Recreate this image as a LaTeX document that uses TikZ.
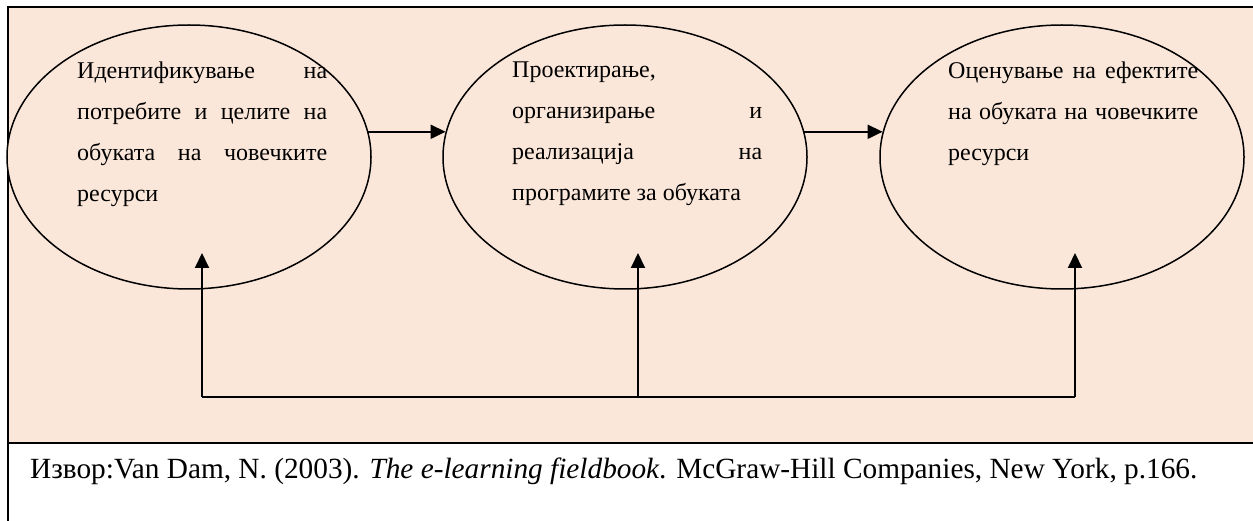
\documentclass[tikz,border=0pt]{standalone}
\usepackage{fontspec}
\setmainfont{Liberation Serif}
\usetikzlibrary{shapes.geometric,arrows.meta}
\definecolor{peach}{HTML}{FBE7DA}
\tikzset{
  frame/.style={line width=2pt,black},
  stage/.style={ellipse,draw,line width=1.5pt,fill=peach,minimum width=364pt,minimum height=264pt,inner sep=0pt},
  stagetext/.style={anchor=north west,inner sep=0pt,text width=250pt,align=justify,
    font=\fontsize{24}{41}\selectfont},
  flow/.style={line width=2pt,-{Triangle[length=15pt,width=14pt]}},
  link/.style={line width=2pt}
}
\begin{document}
\begin{tikzpicture}[x=1pt,y=-1pt]
\useasboundingbox (0,0) rectangle (1253,521);
% background panel and frame
\fill[peach] (8,7) rectangle (1260,443);
\draw[frame] (1260,7) -- (8,7) -- (8,530);
\draw[frame] (8,443) -- (1260,443);

% the three stages
\node[stage] (e1) at (189,157) {};
\node[stage] (e2) at (625,157) {};
\node[stage] (e3) at (1062,157) {};

\node[stagetext] (t1) at (77,62) {Идентификување на\linebreak потребите и целите на\linebreak обуката на човечките\linebreak ресурси};
\node[stagetext] (t2) at (512,62) {Проектирање,\linebreak организирање и\linebreak реализација на\linebreak програмите за обуката};
\node[stagetext] (t3) at (948,62) {Оценување на ефектите\linebreak на обуката на човечките\linebreak ресурси};

% forward flow
\draw[flow] (e1.8) -- (e2.172);
\draw[flow] (e2.8) -- (e3.172);

% feedback loop
\coordinate (u1) at (202,253);
\coordinate (u2) at (638,253);
\coordinate (u3) at (1075,253);
\coordinate (b1) at (202,397);
\coordinate (b2) at (638,397);
\coordinate (b3) at (1075,397);
\draw[link] (b1) -- (b3);
\draw[flow] (b1) -- (u1);
\draw[flow] (b2) -- (u2);
\draw[flow] (b3) -- (u3);

% source line
\node[anchor=base west,inner sep=0pt,font=\fontsize{29.3}{33}\selectfont] (src) at (30,478)
  {Извор:Van Dam, N. (2003). \textit{The e-learning fieldbook}. McGraw-Hill Companies, New York, p.166.};
\end{tikzpicture}
\end{document}
